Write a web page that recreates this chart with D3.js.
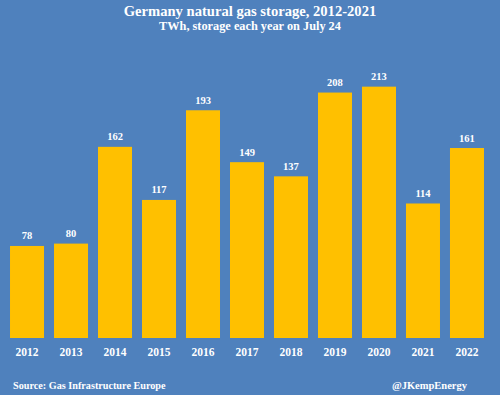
<!DOCTYPE html>
<html>
<head>
<meta charset="utf-8">
<script src="https://cdn.jsdelivr.net/npm/d3@7"></script>
<style>
  body { margin: 0; background: #4f81bd; }
  text { font-family: "Liberation Serif", "DejaVu Serif", serif; font-weight: bold; fill: #fff; }
</style>
</head>
<body>
<svg id="chart" width="500" height="395"></svg>
<script>
// storage on July 24 each year, TWh
const years = ["2012", "2013", "2014", "2015", "2016", "2017", "2018", "2019", "2020", "2021", "2022"];
const storage = [78, 80, 162, 117, 193, 149, 137, 208, 213, 114, 161];

const svg = d3.select("#chart");
const width = 500, height = 395;

svg.append("rect")
   .attr("width", width)
   .attr("height", height)
   .attr("fill", "#4f81bd");

const xScale = d3.scaleBand().domain(years).range([5, 489]).paddingInner(0.227).paddingOuter(0.114);
const yScale = d3.scaleLinear().domain([0, 250]).range([338, 43]);

svg.append("text")
   .attr("x", 250).attr("y", 16)
   .attr("text-anchor", "middle")
   .attr("font-size", "14.6px")
   .text("Germany natural gas storage, 2012-2021");

svg.append("text")
   .attr("x", 250).attr("y", 30)
   .attr("text-anchor", "middle")
   .attr("font-size", "12.3px")
   .text("TWh, storage each year on July 24");

const data = years.map(function(y, i) { return {year: y, value: storage[i]}; });

svg.selectAll(".bar")
   .data(data)
   .enter().append("rect")
   .attr("class", "bar")
   .attr("x", function(d) { return xScale(d.year); })
   .attr("y", function(d) { return yScale(d.value); })
   .attr("width", xScale.bandwidth())
   .attr("height", function(d) { return yScale(0) - yScale(d.value); })
   .attr("fill", "#ffc000");

svg.selectAll(".val")
   .data(data)
   .enter().append("text")
   .attr("class", "val")
   .attr("x", function(d) { return xScale(d.year) + xScale.bandwidth() / 2; })
   .attr("y", function(d) { return yScale(d.value) - 6.5; })
   .attr("text-anchor", "middle")
   .attr("font-size", "10.5px")
   .text(function(d) { return d.value; });

// x axis labels only, no line
const xAxis = svg.append("g")
   .attr("transform", "translate(0," + 338 + ")")
   .call(d3.axisBottom(xScale).tickSize(0).tickPadding(10));
xAxis.select(".domain").remove();
xAxis.selectAll("text")
   .attr("font-family", null)
   .style("font-size", "11.5px")
   .attr("fill", "#fff");

svg.append("text")
   .attr("x", 13).attr("y", 389)
   .attr("font-size", "10.2px")
   .text("Source: Gas Infrastructure Europe");

svg.append("text")
   .attr("x", 467).attr("y", 389)
   .attr("text-anchor", "end")
   .attr("font-size", "10.5px")
   .text("@JKempEnergy");
</script>
</body>
</html>
